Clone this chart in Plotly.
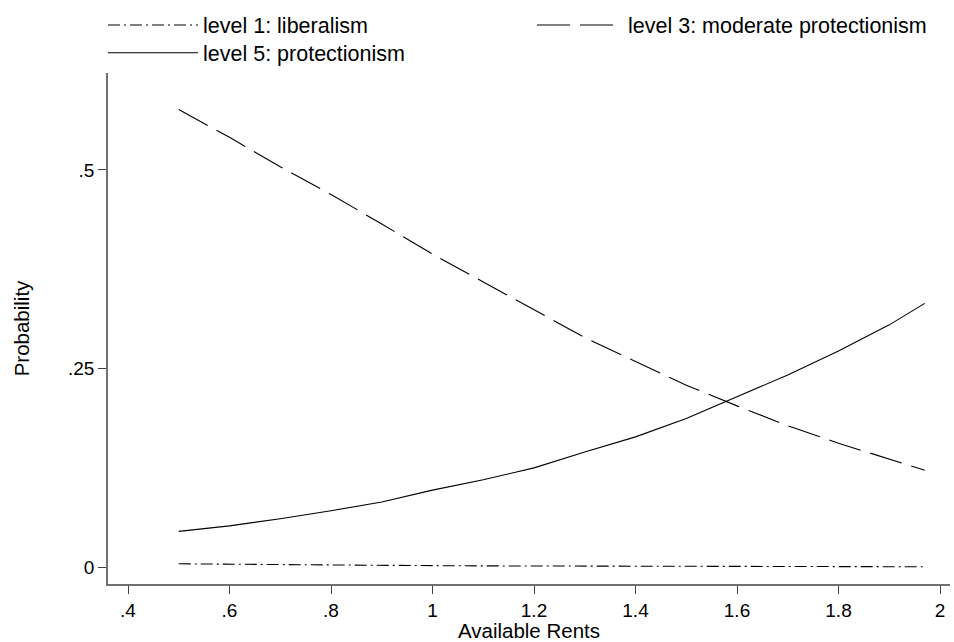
import plotly.graph_objects as go

# Data
rents = [0.5, 0.6, 0.7, 0.8, 0.9, 1.0, 1.1, 1.2, 1.3, 1.4, 1.5, 1.6, 1.7, 1.8, 1.9, 1.97]
p_level1 = [0.0042, 0.0036, 0.0031, 0.0026, 0.0022, 0.0019, 0.0016, 0.0014, 0.0012,
            0.0010, 0.0009, 0.0008, 0.0007, 0.0006, 0.0005, 0.0005]
p_level3 = [0.576, 0.541, 0.504, 0.469, 0.432, 0.394, 0.359, 0.324, 0.289, 0.259,
            0.229, 0.203, 0.178, 0.156, 0.136, 0.122]
p_level5 = [0.045, 0.052, 0.061, 0.071, 0.082, 0.097, 0.110, 0.125, 0.145, 0.164,
            0.187, 0.214, 0.242, 0.272, 0.305, 0.332]

names = ["level 1: liberalism", "level 3: moderate protectionism", "level 5: protectionism"]
x_ticks = [0.4, 0.6, 0.8, 1.0, 1.2, 1.4, 1.6, 1.8, 2.0]
x_ticklabels = [".4", ".6", ".8", "1", "1.2", "1.4", "1.6", "1.8", "2"]
y_ticks = [0, 0.25, 0.5]
y_ticklabels = ["0", ".25", ".5"]

FONT = "Liberation Sans, Arial, sans-serif"
AXIS_GRAY = "#707070"
LEG_FONT = dict(size=21.5, family=FONT, color="black")

fig = go.Figure()
fig.add_trace(go.Scatter(x=rents, y=p_level1, mode="lines", name=names[0], legend="legend",
                         line=dict(color="black", width=1.1, dash="12px,4px,2px,4px")))
fig.add_trace(go.Scatter(x=rents, y=p_level3, mode="lines", name=names[1], legend="legend2",
                         line=dict(color="black", width=1.1, dash="33px,10px")))
fig.add_trace(go.Scatter(x=rents, y=p_level5, mode="lines", name=names[2], legend="legend3",
                         line=dict(color="black", width=1.1)))

fig.update_layout(
    width=954, height=642,
    margin=dict(l=108, r=4, t=68, b=58),
    paper_bgcolor="white", plot_bgcolor="white",
    font=dict(family=FONT, color="black", size=21),
    showlegend=True,
    legend=dict(x=-0.00594, xanchor="left", y=1.0939, yanchor="middle",
                itemwidth=90, font=LEG_FONT, bgcolor="rgba(0,0,0,0)"),
    legend2=dict(x=0.50356, xanchor="left", y=1.0939, yanchor="middle",
                 itemwidth=86, font=LEG_FONT, bgcolor="rgba(0,0,0,0)"),
    legend3=dict(x=-0.00594, xanchor="left", y=1.0397, yanchor="middle",
                 itemwidth=90, font=LEG_FONT, bgcolor="rgba(0,0,0,0)"),
    xaxis=dict(range=[0.3606, 2.0197], tickvals=x_ticks, ticktext=x_ticklabels,
               showgrid=False, zeroline=False, showline=True, linecolor=AXIS_GRAY,
               linewidth=1.5, ticks="outside", ticklen=8, tickcolor="#404040",
               tickwidth=1.2, tickfont=dict(size=19, family=FONT),
               title=dict(text="Available Rents", font=dict(size=20.5, family=FONT), standoff=0)),
    yaxis=dict(range=[-0.0212, 0.622], tickvals=y_ticks, ticktext=y_ticklabels,
               showgrid=False, zeroline=False, showline=True, linecolor=AXIS_GRAY,
               linewidth=1.5, ticks="outside", ticklen=8, tickcolor="#404040",
               tickwidth=1.2, tickfont=dict(size=19, family=FONT),
               title=dict(text="Probability", font=dict(size=20.5, family=FONT), standoff=33)),
)

fig.write_html("out.html", config={"displayModeBar": False},
               post_script="document.body.style.margin='0';")
